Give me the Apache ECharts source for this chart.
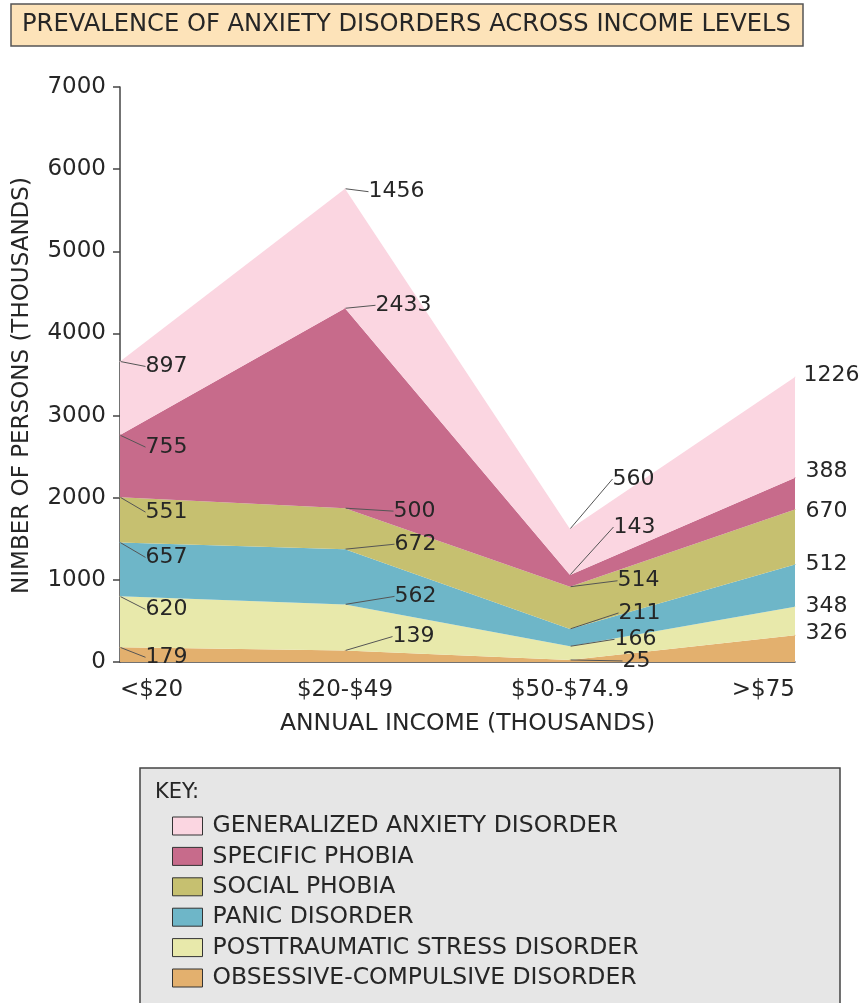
<!DOCTYPE html>
<html><head><meta charset="utf-8">
<script src="https://cdn.jsdelivr.net/npm/echarts@6/dist/echarts.min.js"></script>
<style>html,body{margin:0;padding:0;background:#fff}#c{width:861px;height:1003px}</style>
</head><body><div id="c"></div>
<script>
// ---- data ----
const categories = ['<$20', '$20-$49', '$50-$74.9', '>$75'];
const ocd      = [179, 139, 25, 326];
const ptsd     = [620, 562, 166, 348];
const panic    = [657, 672, 211, 512];
const social   = [551, 500, 514, 670];
const specific = [755, 2433, 143, 388];
const gad      = [897, 1456, 560, 1226];
const seriesNames = ['OBSESSIVE-COMPULSIVE DISORDER', 'POSTTRAUMATIC STRESS DISORDER', 'PANIC DISORDER',
  'SOCIAL PHOBIA', 'SPECIFIC PHOBIA', 'GENERALIZED ANXIETY DISORDER'];
const yMin = 0, yMax = 7000, yStep = 1000;

// ---- styles / label placement ----
const colors = ['#e3b06e', '#e8e9ab', '#6eb6c8', '#c6c070', '#c76b8b', '#fbd6e1'];
const labelOffsets = [
  [[22, 10], [44, -14], [49, 1], [7, -2]],
  [[22, 13], [46, -8], [41, -7], [7, 0]],
  [[22, 15], [46, -5], [45, -16], [7, 0]],
  [[22, 15], [45, 3], [44, -6], [7, 2]],
  [[22, 12], [27, -3], [40, -48], [7, -6]],
  [[22, 5], [20, 3], [39, -50], [5, -2]]
];
const FONT = 'DejaVu Sans';
const TXT = '#262626';
const allValues = [ocd, ptsd, panic, social, specific, gad];

const chart = echarts.init(document.getElementById('c'), null, {renderer: 'canvas'});
const series = allValues.map((vals, si) => ({
  name: seriesNames[si],
  type: 'line',
  stack: 'total',
  data: vals.map((v, i) => ({value: v, labelLine: {show: i < 3}})),
  symbol: 'circle',
  symbolSize: 1,
  showSymbol: true,
  itemStyle: {color: colors[si]},
  lineStyle: {width: 0},
  areaStyle: {color: colors[si], opacity: 1},
  label: {
    show: true, position: 'right', distance: 0,
    fontFamily: FONT, fontSize: 22, color: TXT,
    padding: [0, 2, 0, 3]
  },
  labelLine: {show: true, length2: 0, smooth: false, lineStyle: {color: '#555', width: 1}},
  labelLayout: function (p) {
    const o = labelOffsets[p.seriesIndex][p.dataIndex];
    return {dx: o[0], dy: o[1]};
  },
  emphasis: {disabled: true},
  silent: true
}));

chart.setOption({
  animation: false,
  backgroundColor: '#fff',
  textStyle: {fontFamily: FONT},
  grid: {left: 120, right: 66, top: 87, bottom: 341, outerBoundsMode: 'none'},
  xAxis: {
    type: 'category', data: categories, boundaryGap: false,
    axisLine: {lineStyle: {color: '#444', width: 1.5}},
    axisTick: {show: false},
    axisLabel: {fontFamily: FONT, fontSize: 23, color: TXT, margin: 17,
      alignMinLabel: 'left', alignMaxLabel: 'right'},
    name: 'ANNUAL INCOME (THOUSANDS)', nameLocation: 'middle', nameGap: 50,
    nameTextStyle: {fontFamily: FONT, fontSize: 23.5, color: TXT, padding: [0, 0, 0, 20]}
  },
  yAxis: {
    type: 'value', min: yMin, max: yMax, interval: yStep,
    axisLine: {show: true, lineStyle: {color: '#444', width: 1.5}},
    axisTick: {show: true, length: 7, lineStyle: {color: '#444', width: 1.5}},
    splitLine: {show: false},
    axisLabel: {fontFamily: FONT, fontSize: 23, color: TXT, margin: 14,
      formatter: function (v) { return String(v); }},
    name: 'NIMBER OF PERSONS (THOUSANDS)', nameLocation: 'middle', nameGap: 86, nameRotate: 90,
    nameTextStyle: {fontFamily: FONT, fontSize: 23, color: TXT, padding: [0, 22, 0, 0]}
  },
  legend: {
    orient: 'vertical', left: 172, top: 814,
    data: seriesNames.slice().reverse(),
    icon: 'rect', itemWidth: 30, itemHeight: 18, itemGap: 6.4,
    itemStyle: {borderColor: '#333', borderWidth: 1},
    textStyle: {fontFamily: FONT, fontSize: 23.5, color: TXT, lineHeight: 24, padding: [0, 0, 0, 5]},
    padding: 0, selectedMode: false
  },
  graphic: [
    {type: 'rect', z: -1, shape: {x: 11, y: 4, width: 792, height: 42},
     style: {fill: '#fde3b9', stroke: '#555', lineWidth: 1.5}},
    {type: 'text', z: 1, x: 22, y: 25,
     style: {text: 'PREVALENCE OF ANXIETY DISORDERS ACROSS INCOME LEVELS', fontFamily: FONT,
       fontSize: 24.2, fill: TXT, verticalAlign: 'middle', align: 'left'}},
    {type: 'rect', z: -1, shape: {x: 140, y: 768, width: 700, height: 260},
     style: {fill: '#e6e6e6', stroke: '#444', lineWidth: 1.5}},
    {type: 'text', z: 1, x: 155, y: 793,
     style: {text: 'KEY:', fontFamily: FONT, fontSize: 21, fill: TXT, verticalAlign: 'middle', align: 'left'}}
  ],
  series: series
});
</script>
</body></html>
